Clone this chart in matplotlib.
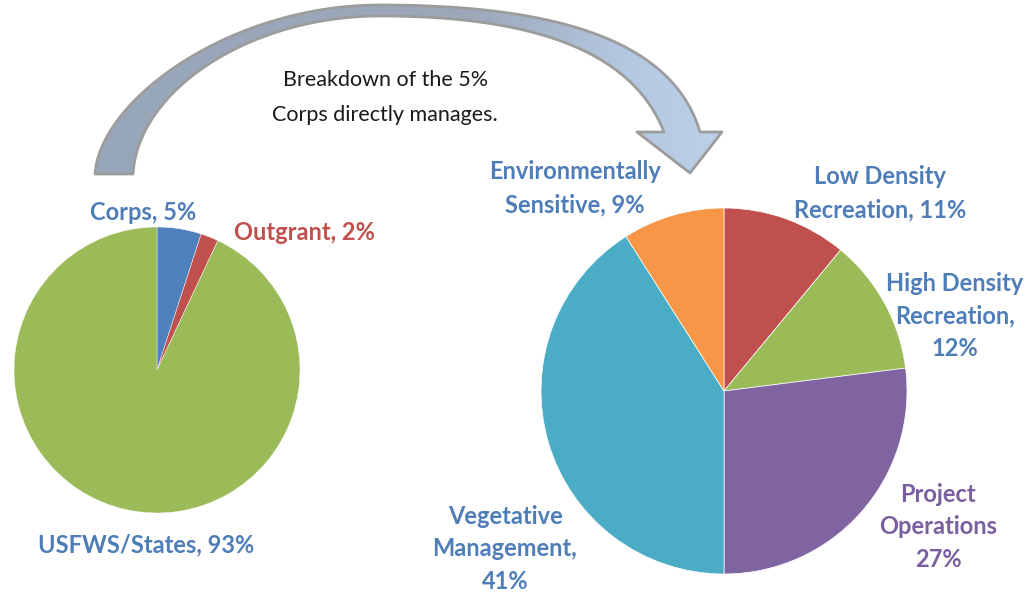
import matplotlib
matplotlib.use("Agg")
import matplotlib.pyplot as plt
import numpy as np
from matplotlib.patches import Polygon
from matplotlib.colors import LinearSegmentedColormap

plt.rcParams['font.family'] = ['Lato', 'DejaVu Sans']

# left pie: overall land
left_names = ["Corps", "Outgrant", "USFWS/States"]
left_values = [5, 2, 93]
left_colors = ["#4F81BD", "#C0504D", "#9BBB59"]

# right pie: breakdown of the Corps 5%
right_names = ["Low Density\nRecreation", "High Density\nRecreation,\n", "Project\nOperations\n",
               "Vegetative\nManagement,\n", "Environmentally\nSensitive"]
right_values = [11, 12, 27, 41, 9]
right_colors = ["#C0504D", "#9BBB59", "#8064A2", "#4BACC6", "#F79646"]

W, H = 1031, 596
fig = plt.figure(figsize=(W / 100, H / 100), dpi=100)

# overlay in pixel coords for arrow + text
ov = fig.add_axes([0, 0, 1, 1])
ov.axis("off")


def pie_axes(cx, cy, r):
    return fig.add_axes([(cx - r) / W, (H - cy - r) / H, 2 * r / W, 2 * r / H])


ax1 = pie_axes(157, 370, 143)
ax1.pie(left_values, colors=left_colors, startangle=90, counterclock=False,
        wedgeprops=dict(edgecolor="white", linewidth=0.3))
ax1.set_xlim(-1, 1)
ax1.set_ylim(-1, 1)

ax2 = pie_axes(724, 391, 183)
ax2.pie(right_values, colors=right_colors, startangle=90, counterclock=False,
        wedgeprops=dict(edgecolor="white", linewidth=0.5))
ax2.set_xlim(-1, 1)
ax2.set_ylim(-1, 1)


# curved arrow, built from two bezier pieces per edge
def bez(p0, p1, p2, p3, n=60):
    t = np.linspace(0, 1, n)[:, None]
    p0, p1, p2, p3 = map(np.array, (p0, p1, p2, p3))
    return (1 - t) ** 3 * p0 + 3 * (1 - t) ** 2 * t * p1 + 3 * (1 - t) * t ** 2 * p2 + t ** 3 * p3


outer = np.vstack([bez((95, 174), (100, 100), (230, 5), (380, 5)),
                   bez((380, 5), (530, 5), (670, 30), (700, 132))])
inner = np.vstack([bez((133, 174), (138, 90), (250, 16), (380, 16)),
                   bez((380, 16), (520, 16), (630, 45), (664, 132))])
head = np.array([(722, 132), (690, 173), (637, 132)])
pts = np.vstack([outer, head, inner[::-1]])

cmap = LinearSegmentedColormap.from_list(
    "arr", [(0, "#98A6BA"), (0.6, "#9CA8B8"), (0.85, "#B4C8E2"), (1, "#BCD0EA")])
grad = np.linspace(0, 1, 256)[None, :]
im = ov.imshow(grad, extent=(95, 722, 175, 0), cmap=cmap, aspect="auto", zorder=2)
im.set_clip_path(Polygon(pts, closed=True, transform=ov.transData))
ov.add_patch(Polygon(pts, closed=True, facecolor="none", edgecolor="#9C9C9C",
                     linewidth=2, joinstyle="round", zorder=3))
ov.set_xlim(0, W)
ov.set_ylim(H, 0)

ov.text(386, 80, "Breakdown of the 5%", ha="center", va="center", fontsize=15.5, color="#1a1a1a")
ov.text(385, 115, "Corps directly manages.", ha="center", va="center", fontsize=15.5, color="#1a1a1a")

blue = "#4F7DB8"
lab = dict(ha="center", va="center", fontsize=17, fontweight="bold", linespacing=1.52)

ov.text(143, 213, f"{left_names[0]}, {left_values[0]}%", color=blue, **lab)
ov.text(304, 232, f"{left_names[1]}, {left_values[1]}%", color="#C0504D", **lab)
ov.text(146, 545, f"{left_names[2]}, {left_values[2]}%", color=blue, **lab)

ov.text(880, 193, f"{right_names[0]}, {right_values[0]}%", color=blue, **lab)
ov.text(955, 316, f"{right_names[1]}{right_values[1]}%", color=blue, **lab)
ov.text(938, 527, f"{right_names[2]}{right_values[2]}%", color="#7A5FA0", **lab)
ov.text(505, 549, f"{right_names[3]}{right_values[3]}%", color=blue, **lab)
ov.text(575, 188, f"{right_names[4]}, {right_values[4]}%", color=blue, **lab)

fig.savefig("out.png", dpi=100)
